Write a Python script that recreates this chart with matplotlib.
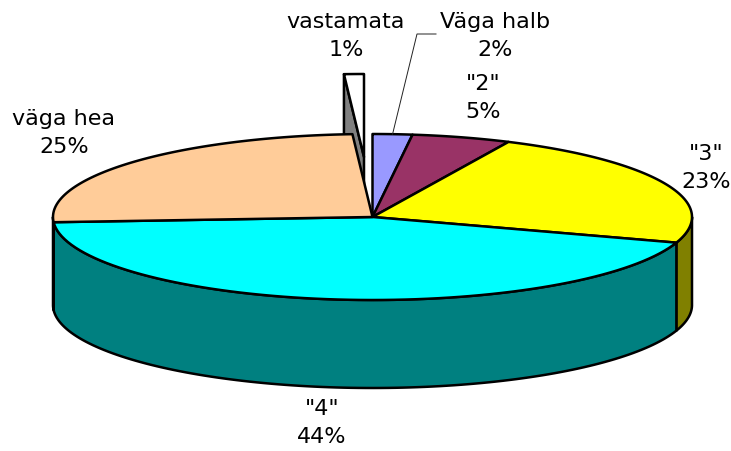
import numpy as np
import matplotlib
matplotlib.use("Agg")
import matplotlib.pyplot as plt
from matplotlib.patches import Polygon

categories = ["Väga halb", '"2"', '"3"', '"4"', "väga hea", "vastamata"]
values = [2, 5, 23, 44, 25, 1]
top_colors = ["#9999FF", "#993366", "#FFFF00", "#00FFFF", "#FFCC99", "#FFFFFF"]
side_colors = ["#4D4D80", "#4D1A33", "#808000", "#008080", "#806650", "#808080"]
label_centers = [(495, 36), (483, 98), (706, 168), (322, 423), (64, 133), (346, 36)]

CX, CY, RX, RY, DEPTH = 372.5, 217.0, 319.5, 83.0, 88.0
EXPLODE = {"vastamata": (-8.5, -60.0)}
LW = 1.8

fig = plt.figure(figsize=(7.31, 4.51), dpi=100)
ax = fig.add_axes([0, 0, 1, 1])
ax.set_xlim(0, 731)
ax.set_ylim(451, 0)
ax.axis("off")


def pt(theta, cx, cy, dy=0.0):
    """theta measured clockwise from 12 o'clock, in radians."""
    return np.column_stack([cx + RX * np.sin(theta), cy - RY * np.cos(theta) + dy])


edges = np.deg2rad(np.cumsum([0] + values) * 3.6)
slices = []
for i, cat in enumerate(categories):
    dx, dy = EXPLODE.get(cat, (0.0, 0.0))
    slices.append((i, edges[i], edges[i + 1], CX + dx, CY + dy))


def draw_top(i, a, b, cx, cy, z):
    arc = pt(np.linspace(a, b, 80), cx, cy)
    ax.add_patch(Polygon(np.vstack([[cx, cy], arc]), closed=True, fc=top_colors[i],
                         ec="black", lw=LW, joinstyle="round", zorder=z))


def draw_wall(i, a, b, cx, cy, z):
    # only the front half of the rim (90..270 deg) is visible
    lo, hi = max(a, np.pi / 2), min(b, 3 * np.pi / 2)
    if hi <= lo:
        return
    th = np.linspace(lo, hi, 120)
    poly = np.vstack([pt(th, cx, cy), pt(th[::-1], cx, cy, DEPTH)])
    ax.add_patch(Polygon(poly, closed=True, fc=side_colors[i], ec="black", lw=LW,
                         joinstyle="round", zorder=z))


# exploded slice sits behind the pie: its cut face, then its top
i, a, b, cx, cy = slices[-1]
left = pt(np.array([a]), cx, cy)[0]
ax.add_patch(Polygon([left, left + [0, DEPTH], [cx, cy + DEPTH], [cx, cy]], closed=True,
                     fc=side_colors[i], ec="black", lw=LW, joinstyle="round", zorder=1))
draw_top(i, a, b, cx, cy, 2)

for i, a, b, cx, cy in slices[:-1]:
    draw_wall(i, a, b, cx, cy, 3)
for i, a, b, cx, cy in slices[:-1]:
    draw_top(i, a, b, cx, cy, 4)

# leader line for the first label
mid = pt(np.array([(edges[0] + edges[1]) / 2]), CX, CY)[0]
ax.plot([436, 417, mid[0]], [34, 34, mid[1]], color="#222222", lw=0.7, zorder=5,
        solid_joinstyle="miter")

for cat, v, (x, y) in zip(categories, values, label_centers):
    ax.text(x, y, f"{cat}\n{v}%", ha="center", va="center", fontsize=16,
            family="DejaVu Sans", color="#000000", linespacing=1.45, zorder=6)

fig.savefig("out.png", dpi=100, facecolor="white")
